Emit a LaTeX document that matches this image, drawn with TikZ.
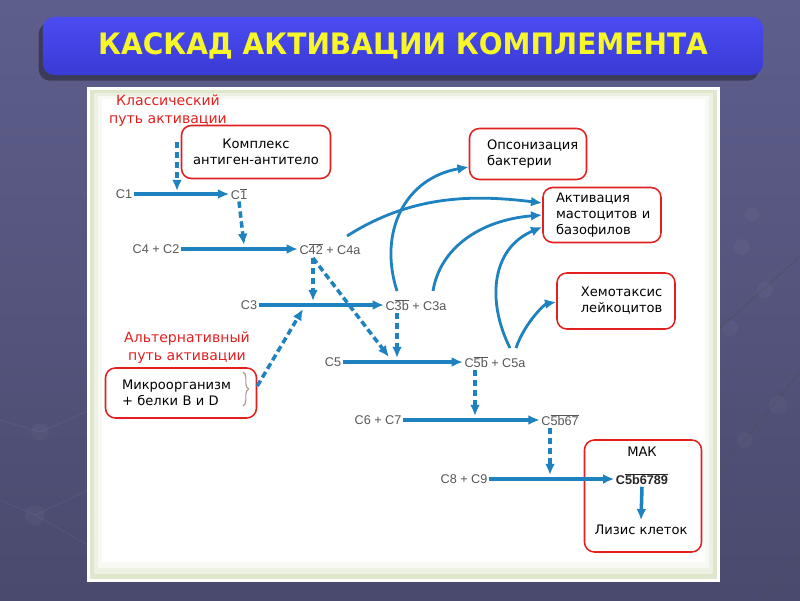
\documentclass[tikz,border=0pt]{standalone}
\usepackage{fontspec}
\setmainfont{DejaVu Sans}
\newfontfamily\chemfont{Liberation Sans}
\usepackage{tikz}
\usetikzlibrary{arrows.meta,shadows,decorations.pathreplacing,positioning}

\definecolor{slidetop}{RGB}{94,94,140}
\definecolor{slidebot}{RGB}{74,74,110}
\definecolor{bartop}{RGB}{74,76,242}
\definecolor{barbot}{RGB}{58,58,212}
\definecolor{titleyellow}{RGB}{246,246,40}
\definecolor{panelgreen}{RGB}{222,230,204}
\definecolor{arrblue}{RGB}{30,130,192}
\definecolor{labgray}{RGB}{88,88,88}
\definecolor{boxred}{RGB}{226,32,32}
\definecolor{bracegray}{RGB}{176,150,140}

\newcommand{\ovl}[1]{$\overline{\hbox{#1}}$}

\tikzstyle{chem} = [
	text = labgray,
	font = \chemfont\fontsize{9}{10}\selectfont,
	inner sep = 1pt
]
\tikzstyle{note} = [
	draw = boxred,
	line width = 1.1pt,
	rounded corners = 7pt,
	fill = white,
	font = \fontsize{9.3}{11.4}\selectfont
]
\tikzstyle{redlabel} = [
	text = boxred,
	font = \fontsize{10}{12.8}\selectfont,
	align = center,
	inner sep = 0pt
]
\tikzstyle{flow} = [draw = arrblue, line width = 2.5pt, -{Latex[length=8pt,width=7pt]}]
\tikzstyle{trigger} = [flow, dash pattern = on 4.5pt off 2.6pt]
\tikzstyle{effect} = [draw = arrblue, line width = 2pt, -{Latex[length=8pt,width=7pt]}]

\begin{document}
\begin{tikzpicture}[x=0.025cm, y=-0.025cm]
	\useasboundingbox (0,0) rectangle (800,600);
	% slide background
	\shade[top color=slidetop, bottom color=slidebot] (0,0) rectangle (800,600);
	\draw[white, opacity=0.05, line width=0.6pt] (0,420) -- (40,432) -- (90,410) (0,500) -- (35,515) -- (88,490) (35,515) -- (88,545);
	\fill[white, opacity=0.03] (40,432) circle (9) (35,515) circle (10);
	\draw[black!70, line width=0.5pt, opacity=0.5] (720,328) -- (798,258) (720,470) -- (800,372) (763,600) -- (800,553);
	\fill[white, opacity=0.03] (752,214) circle (7) (742,247) circle (8) (765,290) circle (8) (730,328) circle (8) (778,405) circle (9) (745,440) circle (8);

	% title bar
	\node[rounded corners=8pt, minimum width=18cm, minimum height=1.45cm, top color=bartop, bottom color=barbot,
		drop shadow={shadow xshift=-3pt, shadow yshift=-4pt, opacity=0.35, fill=black},
		text=titleyellow, font=\bfseries\fontsize{21}{24}\selectfont] (title) at (403,46)
		{\scalebox{0.95}[1]{КАСКАД АКТИВАЦИИ КОМПЛЕМЕНТА}};

	% panel
	\fill[white] (87,87) rectangle (720,582);
	\fill[panelgreen] (90,90) rectangle (717,579);
	\fill[panelgreen!55!white] (94,93) rectangle (713,574);
	\fill[panelgreen!25!white] (98,96) rectangle (709,568);
	\fill[white] (102,99) rectangle (705,562);

	% red labels
	\node[redlabel] (classic) at (168,111) {Классический\\путь активации};
	\node[redlabel] (altern) at (187,348) {Альтернативный\\путь активации};

	% boxes
	\node[note, minimum width=149*0.025cm, minimum height=53*0.025cm, align=center] (complex) at (256,152) {Комплекс\\антиген-антитело};
	\node[note, minimum width=117*0.025cm, minimum height=51*0.025cm, text width=82*0.025cm, align=left] (opson) at (528,154) {Опсонизация\\бактерии};
	\node[note, minimum width=118*0.025cm, minimum height=55*0.025cm, text width=92*0.025cm, align=left] (activ) at (602,215) {Активация\\мастоцитов~и\\базофилов};
	\node[note, minimum width=118*0.025cm, minimum height=56*0.025cm, align=center] (chemo) at (616,301) {\hspace*{8pt}Хемотаксис\\\hspace*{8pt}лейкоцитов};
	\node[note, minimum width=151*0.025cm, minimum height=50*0.025cm, text width=118*0.025cm, align=left] (micro) at (181,393) {Микроорганизм\\+ белки B и D};
	\node[note, minimum width=117*0.025cm, minimum height=112*0.025cm] (makbox) at (643,496) {};

	% components
	\node[chem] (c1) at (124,194) {C1};
	\node[chem] (c1a) at (239,194) {C\ovl{1}};
	\node[chem] (c4c2) at (156,249) {C4 + C2};
	\node[chem] (c42) at (330,249) {C\ovl{42} + C4a};
	\node[chem] (c3) at (249,305) {C3};
	\node[chem] (c3b) at (416,305) {C\ovl{3b} + C3a};
	\node[chem] (c5) at (333,362) {C5};
	\node[chem] (c5b) at (495,362) {C\ovl{5b} + C5a};
	\node[chem] (c6c7) at (378,420) {C6 + C7};
	\node[chem] (c5b67) at (560,420) {C\ovl{5b67}};
	\node[chem] (c8c9) at (464,479) {C8 + C9};
	\node[chem, text=black!85, font=\chemfont\bfseries\fontsize{9}{10}\selectfont] (mac) at (642,479) {C\ovl{5b6789}};
	\node[font=\fontsize{9.3}{11}\selectfont, above=7pt of mac] (makname) {МАК};
	\node[font=\fontsize{9.3}{11}\selectfont] (lysis) at (641,530) {Лизис клеток};

	% junctions on the reaction arrows
	\coordinate (start1) at (177,142);
	\coordinate (j1) at (177,191);
	\coordinate (j2) at (244,245);
	\coordinate (fork) at (313,258);
	\coordinate (j3) at (313,301);
	\coordinate (j4) at (389,357);
	\coordinate (j5) at (397,358);
	\coordinate (j6) at (475,416);
	\coordinate (j7) at (550,475);
	\coordinate (j8) at (303,309);
	\coordinate (bracetop) at (243,372);
	\coordinate (bracebot) at (243,406);

	% reactions
	\draw[flow] (c1.east) -- (c1a.west);
	\draw[flow] (c4c2.east) -- (c42.west);
	\draw[flow] (c3.east) -- (c3b.west);
	\draw[flow] (c5.east) -- (c5b.west);
	\draw[flow] (c6c7.east) -- (c5b67.west);
	\draw[flow] (c8c9.east) -- (mac.west);
	\draw[flow] (mac.south) -- (lysis.north);

	% activating steps
	\draw[trigger] (start1) -- (j1);
	\draw[trigger] (c1a.south) -- (j2);
	\draw[trigger] (fork) -- (j3);
	\draw[trigger] (fork) -- (j4);
	\draw[trigger] (c3b.south -| j5) -- (j5);
	\draw[trigger] (c5b.south -| j6) -- (j6);
	\draw[trigger] (c5b67.south -| j7) -- (j7);
	\draw[trigger] (micro.east |- 0,386) -- (j8);
	\draw[bracegray, line width=0.8pt, decorate, decoration={brace, amplitude=4pt}] (bracetop) -- (bracebot);

	% effects
	\draw[effect] (347,236) .. controls (410,196) and (470,194) .. (activ.west |- 0,203);
	\draw[effect] (397,291) .. controls (378,232) and (405,178) .. (opson.west |- 0,167);
	\draw[effect] (433,291) .. controls (440,248) and (480,220) .. (activ.west |- 0,215);
	\draw[effect] (510,348) .. controls (486,300) and (492,248) .. (activ.west |- 0,227);
	\draw[effect] (516,348) .. controls (525,322) and (545,304) .. (chemo.west |- 0,302);
\end{tikzpicture}
\end{document}
